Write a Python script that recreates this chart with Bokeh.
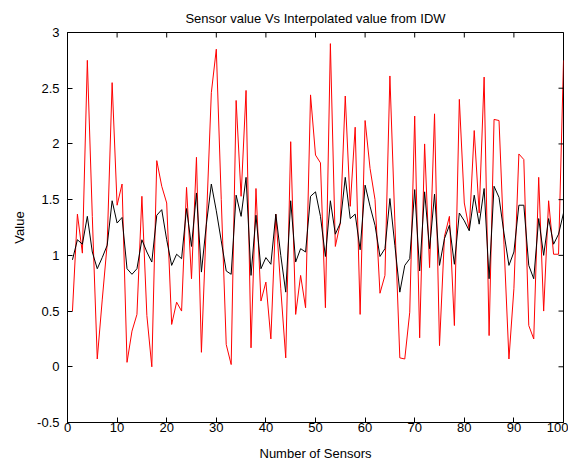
import math
from bokeh.plotting import figure
from bokeh.models import Range1d, FixedTicker
from bokeh.embed import file_html
from bokeh.resources import INLINE

# Data (sensor index 1..100)
sensor_idx = list(range(1, 101))
sensor_value = [
    0.50, 1.37, 1.02, 2.75, 1.35, 0.07, 0.60, 1.10, 2.55, 1.45,
    1.64, 0.04, 0.32, 0.47, 1.53, 0.46, 0.00, 1.85, 1.62, 1.47,
    0.38, 0.58, 0.50, 1.61, 0.79, 1.88, 0.13, 1.30, 2.46, 2.85,
    1.50, 0.20, 0.02, 2.39, 1.53, 2.48, 0.17, 1.60, 0.59, 0.76,
    0.25, 1.37, 0.70, 0.08, 2.02, 0.47, 0.82, 0.53, 2.44, 1.90,
    1.83, 0.53, 2.90, 1.08, 1.29, 2.43, 1.44, 2.15, 0.47, 2.21,
    1.78, 1.50, 0.66, 0.82, 2.61, 1.30, 0.08, 0.07, 0.49, 2.25,
    0.26, 2.00, 0.89, 2.27, 0.19, 1.17, 1.35, 0.37, 2.40, 1.47,
    1.23, 2.12, 1.38, 2.60, 0.28, 2.22, 2.21, 1.10, 0.07, 0.70,
    1.91, 1.86, 0.37, 0.25, 1.70, 0.50, 1.49, 1.01, 1.01, 2.75,
]
interpolated_value = [
    0.96, 1.14, 1.10, 1.35, 1.03, 0.88, 0.98, 1.09, 1.49, 1.29,
    1.34, 0.88, 0.83, 0.88, 1.14, 1.03, 0.94, 1.36, 1.41, 1.14,
    0.91, 1.01, 0.97, 1.42, 1.08, 1.56, 0.85, 1.28, 1.64, 1.40,
    1.13, 0.86, 0.83, 1.54, 1.35, 1.70, 0.82, 1.36, 0.88, 0.98,
    0.92, 1.37, 1.00, 0.67, 1.49, 0.94, 1.06, 1.03, 1.53, 1.57,
    1.35, 0.99, 1.49, 1.19, 1.29, 1.70, 1.33, 1.37, 1.05, 1.63,
    1.44, 1.27, 0.99, 1.06, 1.51, 1.09, 0.67, 0.91, 0.97, 1.59,
    0.86, 1.57, 1.06, 1.55, 0.91, 1.15, 1.27, 0.92, 1.38, 1.31,
    1.22, 1.54, 1.28, 1.60, 0.79, 1.62, 1.52, 1.20, 0.91, 1.03,
    1.45, 1.45, 0.91, 0.79, 1.33, 1.00, 1.33, 1.10, 1.19, 1.38,
]
x_ticks = [0, 10, 20, 30, 40, 50, 60, 70, 80, 90, 100]
y_ticks = [-0.5, 0, 0.5, 1, 1.5, 2, 2.5, 3]
y_tick_labels = ["-0.5", "0", "0.5", "1", "1.5", "2", "2.5", "3"]

FONT = "Liberation Sans"
FS = "13px"

x_lo, x_hi = x_ticks[0], x_ticks[-1]
y_lo, y_hi = y_ticks[0], y_ticks[-1]

p = figure(width=568, height=464, output_backend="svg", toolbar_location=None,
           x_range=Range1d(x_lo, x_hi), y_range=Range1d(y_lo, y_hi),
           min_border_left=67, min_border_right=5, min_border_top=32, min_border_bottom=42,
           title="Sensor value Vs Interpolated value from IDW")
p.background_fill_color = "white"
p.border_fill_color = "white"
p.outline_line_color = "black"
p.outline_line_width = 1
p.xgrid.visible = False
p.ygrid.visible = False

p.title.align = "center"
p.title.vertical_align = "top"
p.title.text_font = FONT
p.title.text_font_size = FS
p.title.text_font_style = "normal"
p.title.text_color = "black"
p.title.standoff = 10

p.line(sensor_idx, sensor_value, line_color="#ff0000", line_width=1)
p.line(sensor_idx, interpolated_value, line_color="black", line_width=1)

# inward ticks on the top and right edges of the box (clipped to the frame)
p.scatter(x_ticks, [y_hi] * len(x_ticks), marker="dash", angle=math.pi / 2,
          size=10, line_color="black", line_width=1)
p.scatter([x_hi] * len(y_ticks), y_ticks, marker="dash",
          size=10, line_color="black", line_width=1)


def style_axis(ax):
    ax.major_tick_in = 5
    ax.major_tick_out = 0
    ax.minor_tick_line_color = None
    ax.axis_line_color = "black"
    ax.major_tick_line_color = "black"
    ax.major_label_text_font = FONT
    ax.major_label_text_font_size = FS
    ax.major_label_text_color = "black"
    ax.axis_label_text_font = FONT
    ax.axis_label_text_font_size = FS
    ax.axis_label_text_font_style = "normal"
    ax.axis_label_text_color = "black"


xa = p.xaxis[0]
xa.ticker = FixedTicker(ticks=x_ticks)
style_axis(xa)
xa.axis_label = "Number of Sensors"
xa.major_label_standoff = 0
xa.axis_label_standoff = 11

ya = p.yaxis[0]
ya.ticker = FixedTicker(ticks=y_ticks)
ya.major_label_overrides = {v: s for v, s in zip(y_ticks, y_tick_labels)}
style_axis(ya)
ya.axis_label = "Value"
ya.major_label_standoff = 8
ya.axis_label_standoff = 7

open("out.html", "w").write(file_html(p, INLINE))
